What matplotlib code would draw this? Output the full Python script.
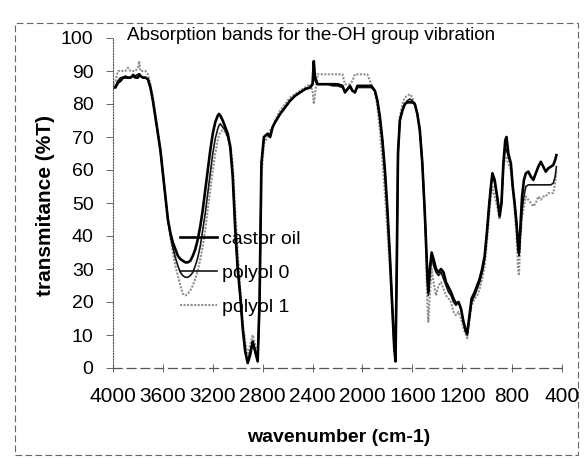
import matplotlib
matplotlib.use('Agg')
import matplotlib.pyplot as plt
from matplotlib.patches import Rectangle

plt.rcParams['font.family'] = ['Liberation Sans', 'DejaVu Sans']

# wavenumber (cm-1) and transmittance (%T)
wavenumber = [4000, 3980, 3960, 3940, 3920, 3900, 3880, 3860, 3840, 3820,
              3800, 3790, 3780, 3760, 3740, 3720, 3700, 3680, 3660, 3640,
              3620, 3600, 3580, 3560, 3540, 3520, 3500, 3480, 3460, 3440,
              3420, 3400, 3380, 3360, 3340, 3320, 3300, 3280, 3260, 3240,
              3220, 3200, 3180, 3160, 3150, 3140, 3120, 3100, 3080, 3060,
              3040, 3020, 3000, 2980, 2960, 2940, 2920, 2900, 2880, 2860,
              2840, 2825, 2810, 2790, 2760, 2740, 2720, 2700, 2660, 2620,
              2580, 2540, 2500, 2460, 2420, 2400, 2390, 2380, 2360, 2320,
              2280, 2240, 2200, 2160, 2140, 2100, 2080, 2060, 2040, 2000,
              1960, 1930, 1900, 1880, 1860, 1840, 1820, 1800, 1780, 1760,
              1745, 1735, 1725, 1715, 1700, 1680, 1660, 1640, 1620, 1600,
              1580, 1560, 1540, 1520, 1500, 1490, 1480, 1472, 1460, 1445,
              1430, 1410, 1390, 1370, 1350, 1330, 1310, 1290, 1270, 1250,
              1230, 1210, 1190, 1170, 1160, 1145, 1125, 1100, 1080, 1060,
              1040, 1020, 1000, 985, 970, 958, 940, 920, 900, 885,
              870, 855, 845, 830, 810, 795, 780, 765, 752, 745,
              735, 720, 705, 690, 670, 650, 630, 610, 590, 570,
              550, 530, 510, 490, 470, 455, 445]

castor_oil = [85, 85, 86.5, 87, 88, 88, 88, 88, 88.5, 88,
              88, 89, 88.5, 88, 88, 87.5, 85, 81, 76, 71,
              66, 59, 52, 45, 41, 38, 36, 34, 33, 32.5,
              32, 32, 32.5, 34, 36, 39, 43, 48, 54, 60,
              66, 71, 74.5, 76.5, 77, 76.5, 75, 73, 71, 67,
              58, 42, 30, 22, 12, 5, 1.5, 4, 8, 5,
              2, 20, 62, 70, 71, 70, 73, 74.5, 77, 79,
              81, 82.5, 83.5, 84.5, 85, 86, 93, 88, 86, 86,
              86, 86, 86, 85.5, 83.5, 85.5, 84, 83.5, 85.5, 85.5,
              85.5, 85.5, 84, 81, 76, 69, 60, 48, 34, 18,
              6, 2, 30, 65, 75, 78, 80, 80.5, 80.5, 80.5,
              80, 77, 72, 62, 47, 38, 28, 23, 30, 35,
              33, 30, 29, 30, 29, 26, 24.5, 23, 21, 19.5,
              20, 18, 14, 11, 10.5, 15, 21, 23, 25, 27,
              30, 34, 42, 49, 55, 59, 57, 52, 46, 50,
              62, 69, 70, 65, 62, 55, 50, 44, 37, 35,
              42, 52, 57, 59, 59.5, 58, 57, 59, 61, 62.5,
              61, 59.5, 60.5, 61, 61.5, 63, 64.5]

polyol_0 = [85, 85.5, 87, 88, 88, 88.5, 88, 88, 89, 88.5,
            89, 89, 88.5, 88, 88, 87.5, 85, 81, 76, 71,
            66, 59, 52, 45, 40, 36.5, 33.5, 31, 29, 28,
            27.5, 27.5, 28, 29, 31, 33.5, 37, 42, 47, 53,
            59, 65, 69.5, 72.5, 73.5, 74, 73, 72, 70, 67,
            58, 42, 30, 22, 12, 5, 2, 5, 8, 5,
            2.5, 20, 62, 70, 71, 70.5, 73, 74.5, 77, 79,
            81, 82.5, 83.5, 84.5, 85, 86, 91, 87, 86, 86,
            86, 85.5, 85.5, 85, 84, 85, 84, 83.5, 85, 85,
            85, 85, 84, 81, 76, 69, 60, 48, 34, 18,
            6, 3, 32, 66, 75, 78, 80, 81, 81.5, 81,
            80, 77, 72, 62, 47, 38, 28, 22, 28, 34,
            31, 29, 28, 29, 27, 25, 23, 22, 20, 19,
            20, 18, 14, 11, 10, 14, 20, 22, 24, 26,
            29, 33, 42, 49, 55, 59, 56, 52, 47, 50,
            62, 67, 66, 64, 62, 55, 50, 44, 36, 34,
            40, 48, 52, 55, 55.5, 55.5, 55.5, 55.5, 55.5, 55.5,
            55.5, 55.5, 55.5, 55.5, 56, 58, 61]

polyol_1 = [86, 87, 90, 90, 90, 90, 91, 90, 90, 90,
            91, 93, 90, 90, 90, 89, 86, 82, 77, 72,
            66, 59, 52, 45, 40, 35, 31, 28, 25, 22.5,
            22, 22.5, 23.5, 25, 27, 29.5, 33, 37, 42, 48,
            54, 60, 65, 69, 70.5, 71.5, 72, 71.5, 70, 68,
            62, 48, 35, 24, 14, 8, 4, 7, 10, 7,
            4, 18, 58, 68, 70, 72, 73, 75, 78, 80,
            82, 83, 84, 85, 86, 84, 80, 83, 89, 89,
            89, 89, 89, 89, 86, 86, 87, 89, 89, 89,
            89, 86, 84, 79, 72, 63, 53, 42, 30, 16,
            6, 4, 28, 63, 76, 80, 82, 82.5, 83, 82,
            80, 77, 73, 63, 46, 35, 20, 14, 22, 30,
            26, 22, 25, 26, 24, 22, 21, 20, 17, 16,
            17, 15, 12, 10, 9, 14, 19, 21, 22, 24,
            27, 31, 39, 46, 52, 55, 52, 49, 45, 50,
            60, 64, 64, 62, 60, 54, 48, 40, 30, 28,
            38, 46, 49, 52, 51, 50, 49, 50, 52, 51,
            52, 52, 53, 53, 53, 56, 60]

series = [
    ('castor oil', castor_oil, 'black', 1.9, '-'),
    ('polyol 0', polyol_0, '#151515', 1.2, '-'),
    ('polyol 1', polyol_1, '#8f8f8f', 1.5, (0, (1, 0.7))),
]

fig = plt.figure(figsize=(5.84, 4.59), dpi=100)
ax = fig.add_axes([113 / 584, 1 - 368 / 459, 449 / 584, 330 / 459])

# draw light line first so the black ones sit on top
for name, vals, col, lw, ls in reversed(series):
    ax.plot(wavenumber, vals, color=col, lw=lw, ls=ls, label=name)

ax.set_xlim(4000, 400)
ax.set_ylim(0, 100)
ax.set_xticks([4000, 3600, 3200, 2800, 2400, 2000, 1600, 1200, 800, 400])
ax.set_yticks(range(0, 101, 10))

ax.tick_params(axis='x', labelsize=15, direction='inout', length=6,
               width=0.7, color='#666666', pad=11)
ax.tick_params(axis='y', labelsize=14, direction='out', length=5,
               width=0.7, color='#666666', pad=9)

for s in ['top', 'right']:
    ax.spines[s].set_visible(False)
ax.spines['bottom'].set_linestyle((0, (7, 4)))
ax.spines['bottom'].set_color('#555555')
ax.spines['bottom'].set_linewidth(0.9)
ax.spines['left'].set_linestyle((0, (1, 1.5)))
ax.spines['left'].set_color('#555555')
ax.spines['left'].set_linewidth(0.8)

ax.set_xlabel('wavenumber (cm-1)', fontsize=14, fontweight='bold')
ax.xaxis.set_label_coords((339 - 113) / 449, -(429 - 368) / 330)
ax.set_ylabel('transmitance (%T)', fontsize=15, fontweight='bold')
ax.yaxis.set_label_coords(-(113 - 55) / 449, (368 - 206) / 330)

fig.text(127 / 584, 1 - 36 / 459, 'Absorption bands for the-OH group vibration',
         fontsize=13.6, ha='left', va='center')

# legend entries in the order castor oil, polyol 0, polyol 1
handles, labels = ax.get_legend_handles_labels()
ax.legend(handles[::-1], labels[::-1], loc='upper left',
          bbox_to_anchor=(0.149, 0.418), frameon=False, fontsize=14,
          handlelength=1.9, handletextpad=0.25, labelspacing=0.85,
          borderpad=0, borderaxespad=0)

# scanned outer border of the chart
fig.patches.append(Rectangle((15 / 584, 1 - 455 / 459), 563 / 584, 432 / 459,
                             transform=fig.transFigure, fill=False,
                             ec='#666666', lw=0.8, ls=(0, (6, 3))))

plt.savefig('out.png', dpi=100)
